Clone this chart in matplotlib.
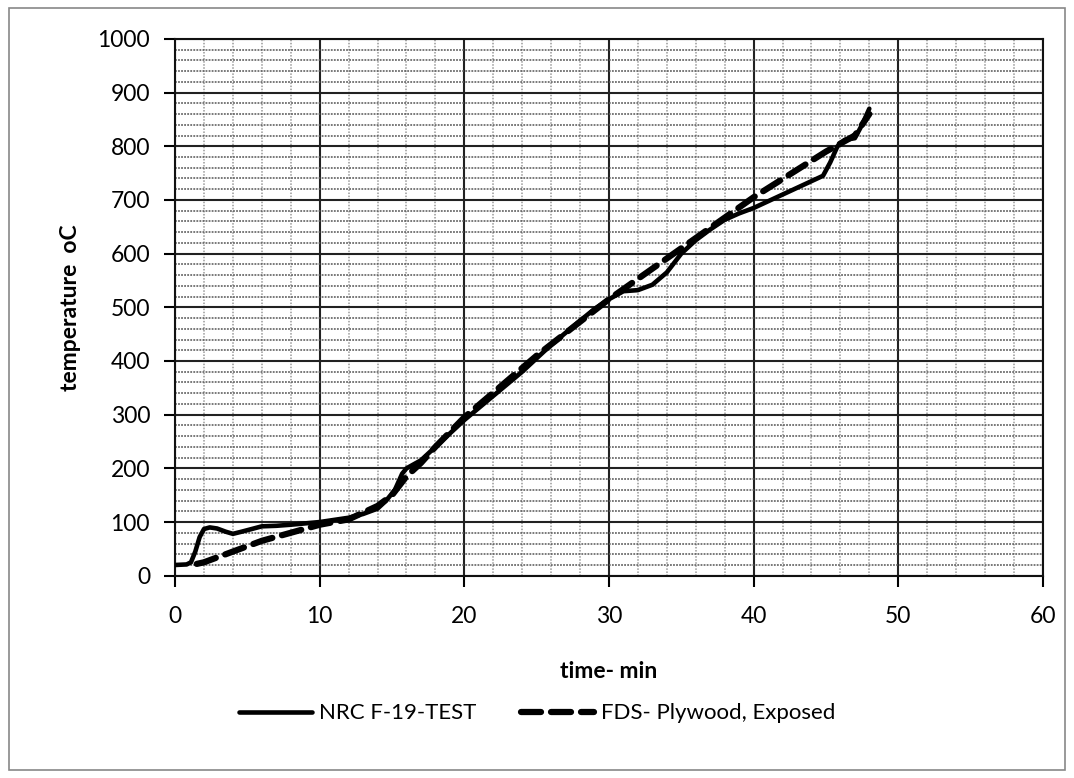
import numpy as np
import matplotlib.pyplot as plt
from matplotlib.patches import Rectangle

# NRC F-19 test (solid)
nrc_t = [0, 0.8, 1.1, 1.4, 1.7, 2.0, 2.4, 2.9, 3.5, 4, 4.6, 5.3, 6, 7, 8, 10, 12,
         13, 14, 14.6, 15.2, 15.7, 16, 17, 18, 20, 22, 24, 26, 28, 29, 30, 31,
         32, 33, 34, 35, 36, 37, 38, 39, 40, 42, 44, 44.8, 45.3, 45.8, 46.3, 47,
         47.5, 48]
nrc_T = [20, 21, 25, 45, 72, 87, 90, 88, 82, 78, 82, 87, 92, 93, 95, 100, 108,
         115, 125, 140, 160, 190, 200, 215, 240, 290, 335, 380, 430, 475, 497,
         515, 530, 532, 542, 565, 600, 625, 645, 663, 675, 685, 710, 735, 745,
         770, 800, 812, 815, 840, 870]

# FDS plywood, exposed (dashed)
fds_t = [1.5, 2, 4, 6, 8, 10, 12, 14, 15, 16, 17, 18, 20, 25, 30, 35, 40, 45, 47, 48]
fds_T = [22, 25, 45, 65, 80, 95, 105, 130, 150, 185, 210, 240, 295, 410, 515, 610,
         705, 790, 820, 860]

plt.rcParams['font.family'] = ['Lato', 'DejaVu Sans']

fig = plt.figure(figsize=(10.74, 7.78), dpi=100)
ax = fig.add_axes([0.163, 0.26, 0.808, 0.69])

ax.plot(nrc_t, nrc_T, color='black', lw=3.3, label='NRC F-19-TEST', zorder=3,
        solid_capstyle='round', solid_joinstyle='round')
ax.plot(fds_t, fds_T, color='black', lw=4.5, ls=(0, (3.2, 1.6)), label='FDS- Plywood, Exposed',
        zorder=3, dash_capstyle='round')

ax.set_xlim(0, 60)
ax.set_ylim(0, 1000)
ax.set_xticks(np.arange(0, 61, 10))
ax.set_yticks(np.arange(0, 1001, 100))
ax.set_xticks(np.arange(0, 61, 2), minor=True)
ax.set_yticks(np.arange(0, 1001, 20), minor=True)
ax.grid(which='major', color='#222222', lw=1.5)
ax.yaxis.grid(which='minor', color='#555555', lw=1.1, ls=(0, (1.2, 0.8)))
ax.xaxis.grid(which='minor', color='#999999', lw=1.1, ls=(0, (1, 1)))
ax.tick_params(which='major', direction='out', length=8, width=1.5, labelsize=16.5)
ax.tick_params(axis='x', pad=14)
ax.tick_params(axis='y', pad=10)
ax.tick_params(which='minor', length=0)
for s in ax.spines.values():
    s.set_linewidth(1.5)
    s.set_color('#111111')

ax.set_xlabel('time- min', fontsize=16.5, fontweight='bold', labelpad=24)
ax.set_ylabel('temperature  oC', fontsize=16.5, fontweight='bold', labelpad=12)

fig.legend(loc='center', bbox_to_anchor=(0.5, 0.083), ncol=2, frameon=False,
           fontsize=16, handlelength=3.3, handletextpad=0.3, columnspacing=2)

fig.patches.append(Rectangle((0.008, 0.01), 0.984, 0.98, transform=fig.transFigure,
                             fill=False, edgecolor='#888888', lw=1.2))

fig.savefig('out.png', dpi=100)
